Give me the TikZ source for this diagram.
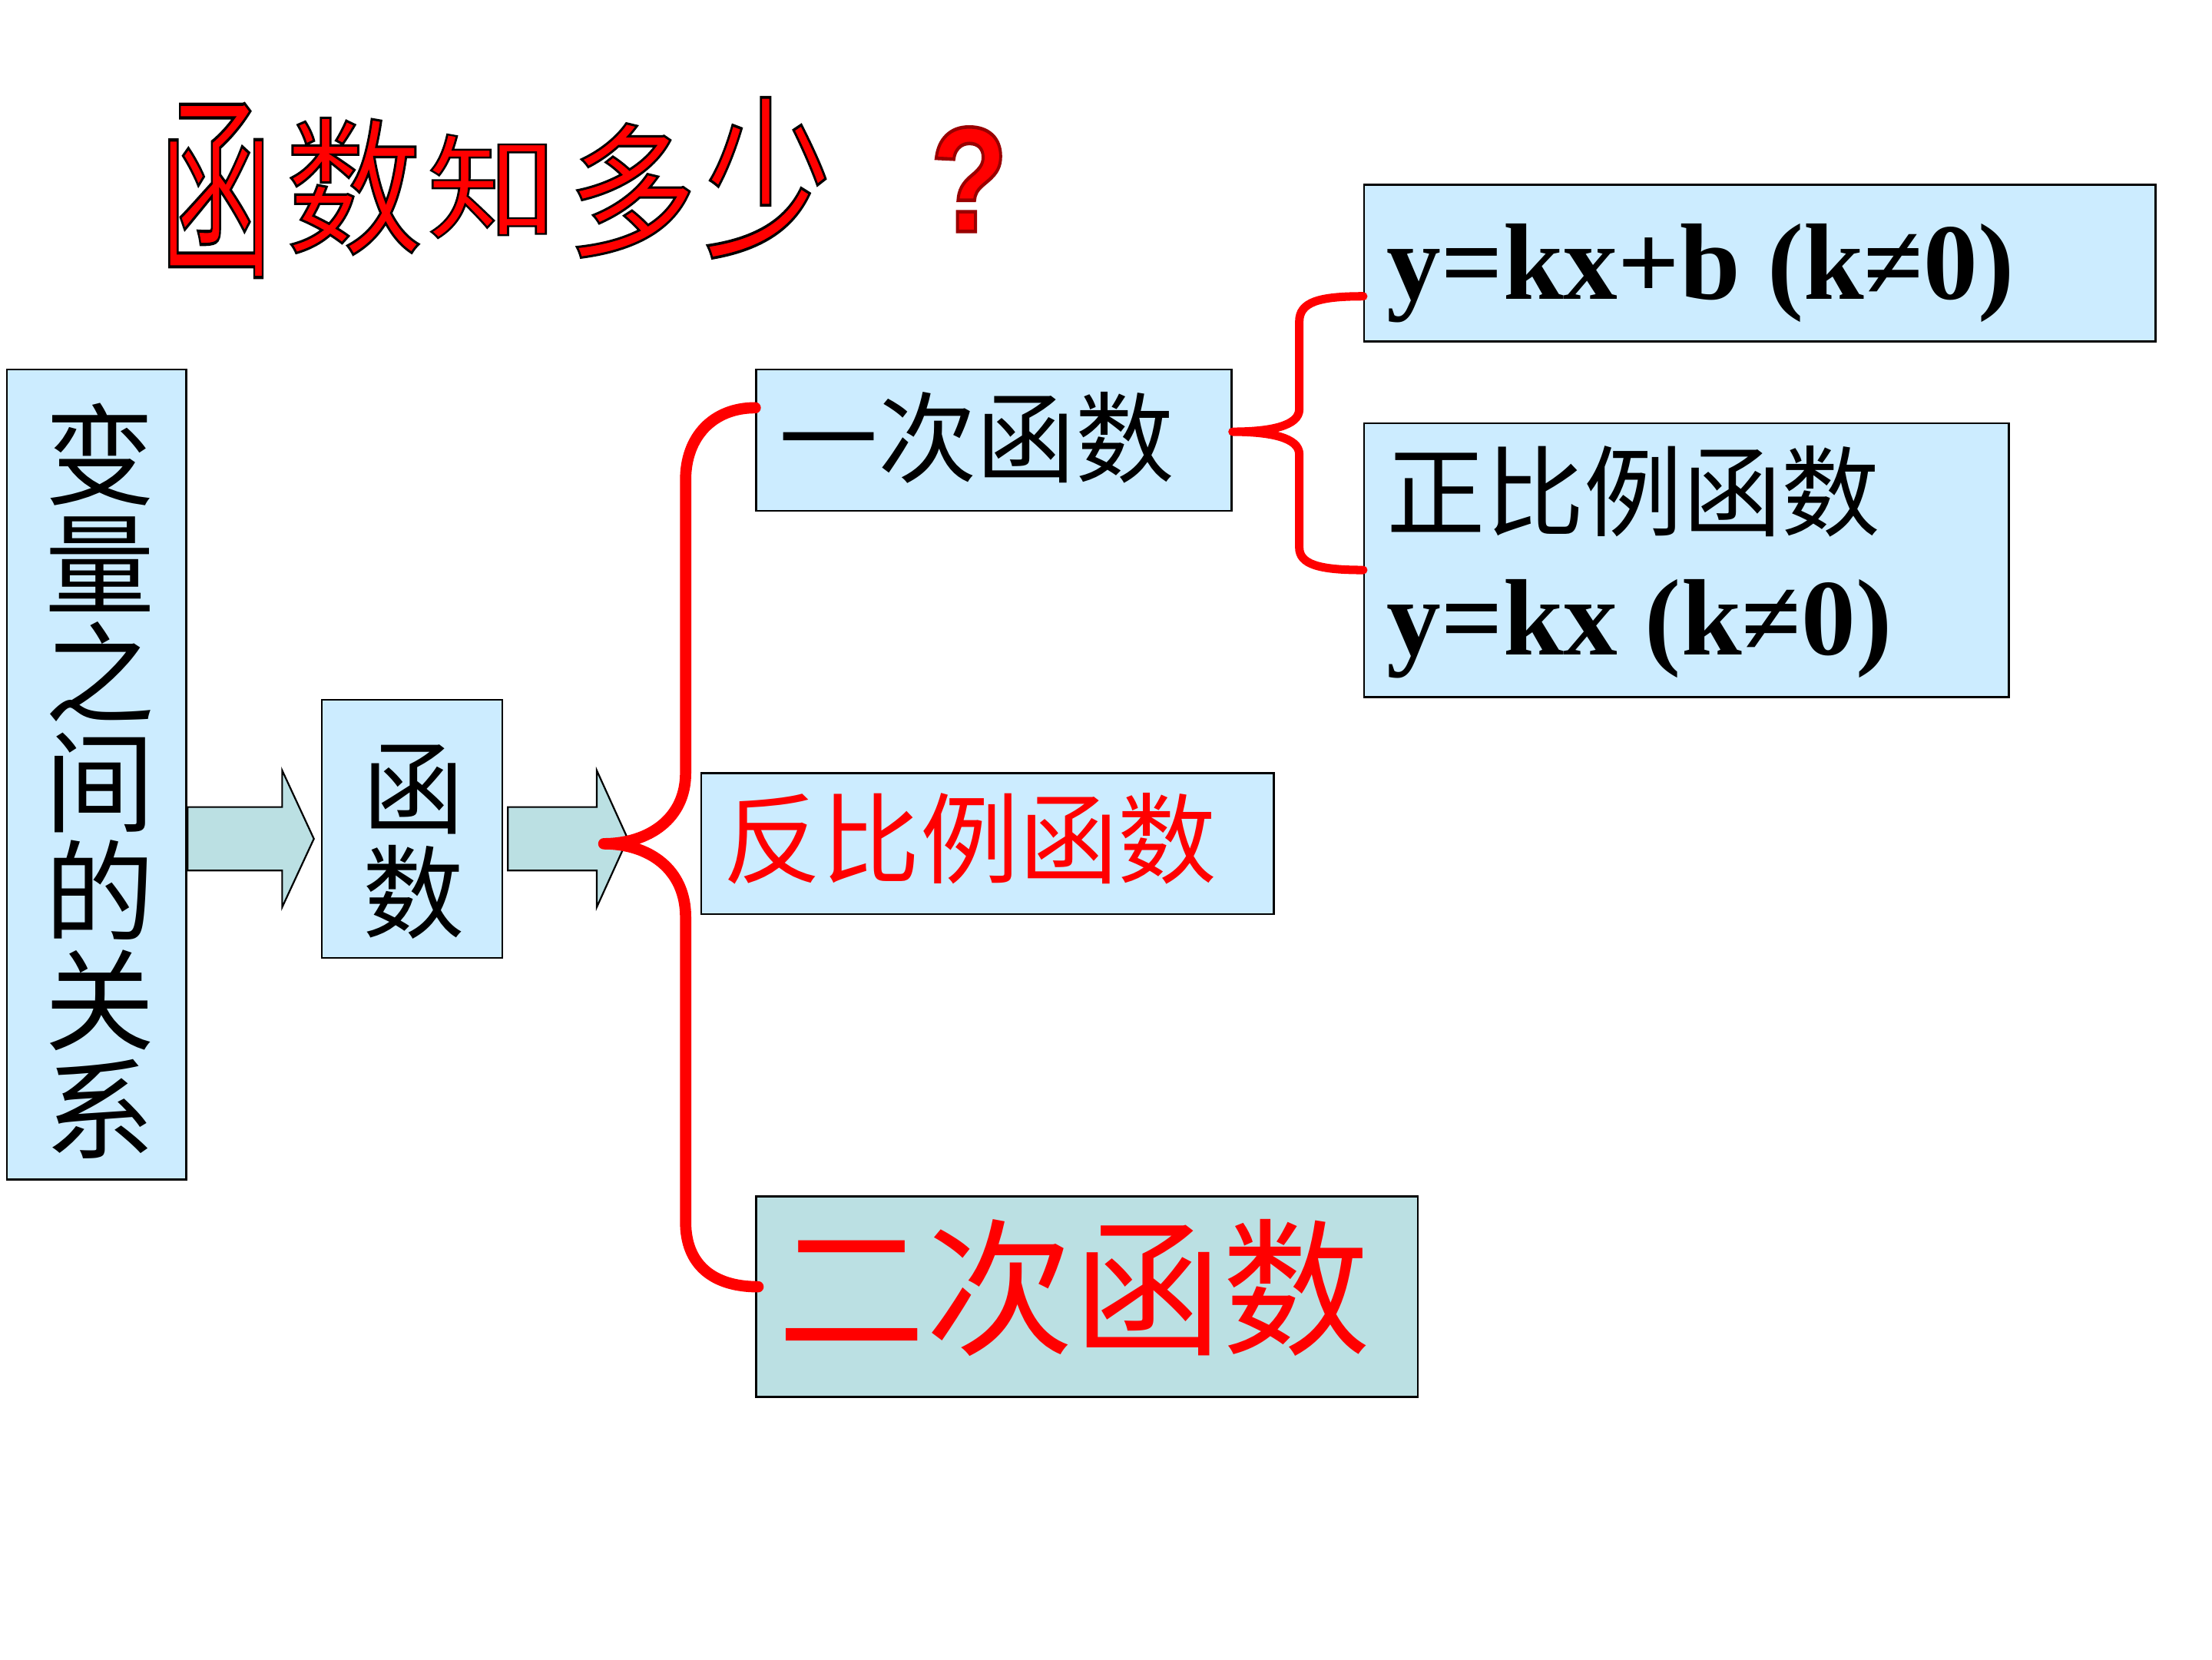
\documentclass[tikz,border=0pt]{standalone}
\usepackage{graphicx}
\usepackage{fontspec}
\setmainfont{Liberation Serif}
\newfontfamily\cjk{Noto Sans CJK SC}
\newfontfamily\qfont{Liberation Sans}
\usetikzlibrary{calc}
\definecolor{boxblue}{HTML}{CCECFF}
\definecolor{arrowteal}{HTML}{BBE0E3}
\newcommand\outl[1]{\special{pdf:literal direct 2 Tr 0 0 0 RG 1.6 w}#1\special{pdf:literal direct 0 Tr}}
\newcommand\qoutl[1]{\special{pdf:literal direct 2 Tr 0.6 0 0 RG 2.5 w}#1\special{pdf:literal direct 0 Tr}}
\tikzset{
  box/.style={draw=black, line width=1.3pt, fill=boxblue, inner sep=0pt},
  cjktext/.style={inner sep=0pt, text=black},
  mathtext/.style={inner sep=0pt, text=black, font=\bfseries\fontsize{77pt}{80pt}\selectfont, anchor=base west},
  blockarrow/.style={draw=black, line width=1.2pt, fill=arrowteal, line join=miter},
  bigbrace/.style={draw=red, line width=8pt, line cap=round, line join=round},
  smallbrace/.style={draw=red, line width=6pt, line cap=round, line join=round},
  ttl/.style={inner sep=0pt, text=red, font=\cjk\fontsize{100pt}{100pt}\selectfont},
  qm/.style={inner sep=0pt, font=\qfont\bfseries\fontsize{106pt}{106pt}\selectfont}
}
\begin{document}
\begin{tikzpicture}[x=1pt,y=-1pt]
\useasboundingbox[fill=white] (0,0) rectangle (1568,1176);

% boxes
\node[box, minimum width=127pt, minimum height=574pt] (bl) at (68.5,549) {};
\node[box, minimum width=128pt, minimum height=183pt] (hs) at (292,587.5) {};
\node[box, minimum width=337pt, minimum height=100pt] (yc) at (704.5,312) {};
\node[box, minimum width=406pt, minimum height=100pt] (fb) at (700,598) {};
\node[box, fill=arrowteal, minimum width=469pt, minimum height=142pt] (ec) at (770.5,919) {};
\node[box, minimum width=561pt, minimum height=111pt] (yk) at (1247.5,186.5) {};
\node[box, minimum width=457pt, minimum height=194pt] (zb) at (1195.5,397) {};

% texts
\node[cjktext, align=center, font=\cjk\fontsize{78pt}{77.3pt}\selectfont] (blt) at (71,553.5) {变\\量\\之\\间\\的\\关\\系};
\node[cjktext, align=center, font=\cjk\fontsize{72pt}{74pt}\selectfont] (hst) at (293.5,596.5) {函\\数};
\node[cjktext, font=\cjk\fontsize{70pt}{70pt}\selectfont] (yct) at (692.5,310.5) {一次函数};
\node[cjktext, text=red, font=\cjk\fontsize{70pt}{70pt}\selectfont] (fbt) at (687.5,594.5) {反比例函数};
\node[cjktext, text=red, font=\cjk\fontsize{105pt}{105pt}\selectfont] (ect) at (761.5,913) {二次函数};
\node[cjktext, font=\cjk\fontsize{70pt}{70pt}\selectfont] (zbt) at (1158,348.5) {正比例函数};
\node[mathtext] (ykt) at (983,212) {y=kx+b (k≠0)};
\node[mathtext] (zbt2) at (983,464) {y=kx (k≠0)};

% block arrows
\draw[blockarrow] (133,572) -- (200,572) -- (200,546) -- (222.5,594.5) -- (200,643) -- (200,617) -- (133,617) -- cycle;
\draw[blockarrow] (360,572) -- (423,572) -- (423,546) -- (445,594.5) -- (423,643) -- (423,617) -- (360,617) -- cycle;

% big brace
\coordinate (bt) at (428,598);
\draw[bigbrace] ($(yc.west)+(0,-23)$) .. controls (505,289) and (486,310) .. (486,340) -- (486,548)
  .. controls (486,580) and (460,598) .. (bt)
  .. controls (460,598) and (486,616) .. (486,650) -- (486,866)
  .. controls (486,896) and (505,912) .. ($(ec.west)+(2,-7)$);

% small brace
\coordinate (st) at ($(yc.east)+(0,-6)$);
\draw[smallbrace] ($(yk.west)+(0,23.5)$) .. controls (935,210) and (921,214) .. (921,228) -- (921,290)
  .. controls (921,302) and (900,306) .. (st)
  .. controls (900,306) and (921,310) .. (921,322) -- (921,388)
  .. controls (921,400) and (935,404) .. ($(zb.west)+(0,7)$);

% question mark
\node[qm, text=red] (q1) at (687,127) {\scalebox{0.85}[1]{\qoutl{?}}};

% title
\node[ttl] (t1) at (153,135) {\scalebox{0.80}[1.40]{\outl{函}}};
\node[ttl] (t2) at (251,132) {\scalebox{0.97}[1.05]{\outl{数}}};
\node[ttl] (t3) at (349,132) {\scalebox{0.93}[0.80]{\outl{知}}};
\node[ttl] (t4) at (448,135) {\scalebox{0.92}[1.03]{\outl{多}}};
\node[ttl] (t5) at (544,126) {\scalebox{0.91}[1.24]{\outl{少}}};
\end{tikzpicture}
\end{document}
